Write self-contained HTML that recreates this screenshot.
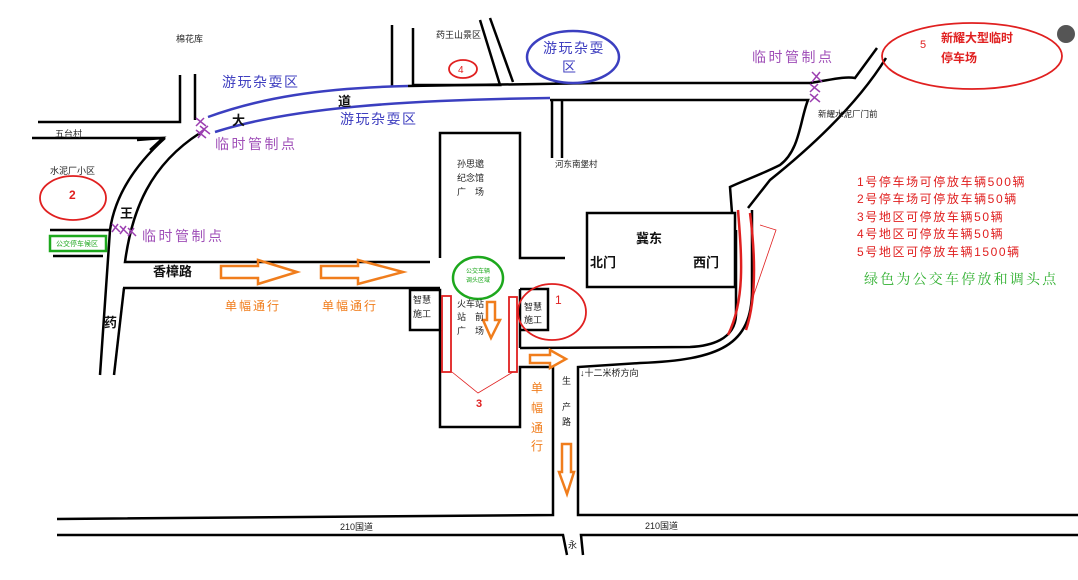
<!DOCTYPE html>
<html><head><meta charset="utf-8"><style>
html,body{margin:0;padding:0;background:#fff;}
svg{display:block;}
text{font-family:"Liberation Sans","Noto Sans CJK SC",sans-serif;}
.s{font-family:"Noto Serif CJK SC","Liberation Serif",serif;}
</style></head><body>
<svg width="1078" height="580" viewBox="0 0 1078 580" xmlns="http://www.w3.org/2000/svg">
<g fill="none" stroke="#000" stroke-width="2.5">
<path d="M38 122 H180 V75"/>
<path d="M195 74 V120"/>
<path d="M32 138 H165"/>
<path d="M137 140 L163 138 L150 150"/>
<path d="M165 138 C135 165 115 195 110 230 L100 375"/>
<path d="M200 133 C150 165 132 210 125 262 H430"/>
<path d="M50 230 H110"/>
<path d="M53 256 H103"/>
<path d="M124 288 L114 375"/>
<path d="M123 288 H440"/>
<path d="M392 25 V87"/>
<path d="M413 28 V85 H500 L480 20"/>
<path d="M490 18 L513 82"/>
<path d="M408 86 C500 84 550 84 600 83 H810 C830 80 845 76 855 78 L877 48"/>
<path d="M550 100 H808 C800 120 800 150 780 165 C760 175 745 180 730 187 L732 213"/>
<path d="M886 58 C860 100 820 140 770 180 L748 208"/>
<path d="M552 100 V158 M562 100 V158"/>
<path d="M440 258 V133 H520 V258 H565"/>
<path d="M587 213 H735 V287 H587 Z"/>
<path d="M736 230 V315 C735 340 710 346 690 347 L520 348"/>
<path d="M752 210 V290 C752 345 720 360 640 363 L578 367 V515 H1078"/>
<path d="M410 290 H440 V330 H410 Z"/>
<path d="M520 289 H548 V330 H520"/>
<path d="M520 289 V348"/>
<path d="M440 330 V427 H520 V367 H553 V515 L57 519"/>
<path d="M57 535 H563 L567 555"/>
<path d="M583 555 L581 535 H1078"/>
</g>
<g fill="none" stroke="#3b3fc0" stroke-width="2.5">
<path d="M208 117 C260 98 320 88 408 86"/>
<path d="M215 132 C290 108 400 100 550 98"/>
<ellipse cx="573" cy="57" rx="46" ry="26"/>
</g>
<g fill="none" stroke="#e02020" stroke-width="1.8">
<ellipse cx="73" cy="198" rx="33" ry="22"/>
<ellipse cx="463" cy="69" rx="14" ry="9"/>
<ellipse cx="552" cy="312" rx="34" ry="28"/>
<ellipse cx="972" cy="56" rx="90" ry="33"/>
<rect x="442" y="296" width="9" height="76"/>
<rect x="509" y="297" width="8" height="75"/>
<path d="M738 210 C742 260 745 300 728 335" stroke-width="2.5"/>
<path d="M750 213 C756 260 756 300 746 330" stroke-width="2.5"/>
<path d="M452 372 L478 393 L513 372" stroke-width="0.8"/>
<path d="M760 225 L776 230 L752 300" stroke-width="0.8"/>
</g>
<ellipse cx="478" cy="278" rx="25" ry="21" fill="none" stroke="#1da81d" stroke-width="2.5"/>
<rect x="50" y="236" width="56" height="15" fill="none" stroke="#1da81d" stroke-width="2.5"/>
<g fill="none" stroke="#f07d1c" stroke-width="2.5">
<path d="M221 266 H258 V260 L297 272 L258 284 V278 H221 Z"/>
<path d="M321 266 H358 V260 L403 272 L358 284 V278 H321 Z"/>
<path d="M487 302 H495 V320 H500 L491 338 L483 320 H487 Z"/>
<path d="M530 355 H550 V350 L566 359 L550 368 V363 H530 Z"/>
<path d="M562 444 H571 V472 H574 L567 494 L559 472 H562 Z"/>
</g>
<g stroke="#9b3fb0" stroke-width="1.5" fill="none">
<path d="M196 118 L206 126 M204 118 L196 126 M200 126 L210 134 M208 126 L198 134 M196 130 L206 138 M204 130 L198 138"/>
<path d="M112 224 L120 232 M118 224 L112 232 M120 226 L128 234 M126 226 L120 234 M128 228 L136 236 M134 228 L128 236"/>
<path d="M812 72 L822 82 M820 72 L812 82 M810 84 L820 92 M818 84 L810 92 M810 94 L820 102 M818 94 L810 102"/>
</g>
<g font-size="9" fill="#222">
<text x="176" y="42">棉花库</text>
<text x="436" y="38">药王山景区</text>
<text x="55" y="137">五台村</text>
<text x="50" y="174">水泥厂小区</text>
<text x="457" y="167">孙思邈</text>
<text x="457" y="181">纪念馆</text>
<text x="457" y="195">广　场</text>
<text x="555" y="167" font-size="8.5">河东南堡村</text>
<text x="818" y="117" font-size="8.5">新耀水泥厂门前</text>
<text x="413" y="303">智慧</text>
<text x="413" y="317">施工</text>
<text x="524" y="310">智慧</text>
<text x="524" y="323">施工</text>
<text x="457" y="307">火车站</text>
<text x="457" y="320">站　前</text>
<text x="457" y="334">广　场</text>
<text x="580" y="376">↓十二米桥方向</text>
<text x="562" y="384">生</text>
<text x="562" y="410">产</text>
<text x="562" y="425">路</text>
<text x="340" y="530">210国道</text>
<text x="645" y="529">210国道</text>
<text x="568" y="548">永</text>
<text x="56" y="246" font-size="7" fill="#1da81d">公交停车候区</text>
<text x="466" y="273" font-size="6" fill="#1da81d">公交车辆</text>
<text x="466" y="282" font-size="6" fill="#1da81d">调头区域</text>
</g>
<g font-size="13" font-weight="bold" fill="#111">
<text x="232" y="125">大</text>
<text x="338" y="106">道</text>
<text x="120" y="218">王</text>
<text x="104" y="327">药</text>
<text x="153" y="276">香樟路</text>
<text x="636" y="243">冀东</text>
<text x="590" y="267">北门</text>
<text x="693" y="267">西门</text>
</g>
<g class="s" font-size="14" fill="#4040c0" letter-spacing="1.5">
<text x="222" y="87">游玩杂耍区</text>
<text x="340" y="124">游玩杂耍区</text>
<text x="543" y="53">游玩杂耍</text>
<text x="562" y="72">区</text>
</g>
<g class="s" font-size="14" fill="#a050b8" letter-spacing="2.5">
<text x="215" y="149">临时管制点</text>
<text x="142" y="241">临时管制点</text>
<text x="752" y="62">临时管制点</text>
</g>
<g class="s" font-size="12" fill="#f07d1c" letter-spacing="2">
<text x="225" y="310">单幅通行</text>
<text x="322" y="310">单幅通行</text>
<text x="531" y="392">单</text>
<text x="531" y="412">幅</text>
<text x="531" y="432">通</text>
<text x="531" y="450">行</text>
</g>
<g fill="#e02020">
<text x="69" y="199" font-size="12" font-weight="bold">2</text>
<text x="458" y="73" font-size="10">4</text>
<text x="555" y="304" font-size="12">1</text>
<text x="476" y="407" font-size="11" font-weight="bold">3</text>
<text x="920" y="48" font-size="11">5</text>
<text x="941" y="42" font-size="12" font-weight="bold">新耀大型临时</text>
<text x="941" y="62" font-size="12" font-weight="bold">停车场</text>
</g>
<g class="s" font-size="12" fill="#e02020" letter-spacing="1.6">
<text x="857" y="186">1号停车场可停放车辆500辆</text>
<text x="857" y="203">2号停车场可停放车辆50辆</text>
<text x="857" y="221">3号地区可停放车辆50辆</text>
<text x="857" y="238">4号地区可停放车辆50辆</text>
<text x="857" y="256">5号地区可停放车辆1500辆</text>
</g>
<text class="s" x="864" y="284" font-size="14" fill="#30b030" letter-spacing="2.2">绿色为公交车停放和调头点</text>
<circle cx="1066" cy="34" r="9" fill="#555"/>
</svg>
</body></html>
